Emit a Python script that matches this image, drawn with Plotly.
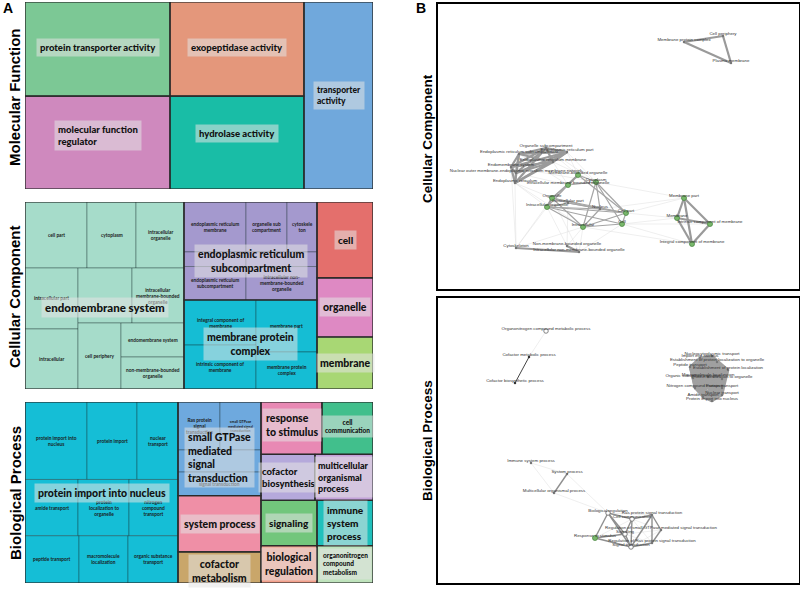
import textwrap

import plotly.graph_objects as go

# ---------------------------------------------------------------- treemap data
# cell extents are read off the picture in % of each treemap (y from the top)

MF_LABEL = [
    "protein transporter activity",
    "molecular function regulator",
    "exopeptidase activity",
    "hydrolase activity",
    "transporter activity",
]
MF_GROUP = [0, 1, 2, 3, 4]
MF_X0 = [0, 0, 41.67, 41.67, 80.17]
MF_X1 = [41.67, 41.67, 80.17, 80.17, 100]
MF_Y0 = [0, 50.3, 0, 50.3, 0]
MF_Y1 = [50.3, 100, 50.3, 100, 100]
MF_GROUP_TEXT = [
    "protein transporter activity",
    "molecular function<br>regulator",
    "exopeptidase activity",
    "hydrolase activity",
    "transporter<br>activity",
]

CC_LABEL = [
    "cell part", "cytoplasm", "intracellular organelle",
    "intracellular part", "", "intracellular membrane-bounded organelle",
    "intracellular", "cell periphery", "endomembrane system",
    "non-membrane-bounded organelle",
    "endoplasmic reticulum membrane", "organelle subcompartment",
    "cytoskeleton", "", "",
    "endoplasmic reticulum subcompartment",
    "intracellular non-membrane-bounded organelle",
    "integral component of membrane", "membrane part",
    "intrinsic component of membrane", "membrane protein complex",
    "cell", "organelle", "membrane",
]
CC_GROUP = [0] * 10 + [1] * 7 + [2] * 4 + [3, 4, 5]
CC_X0 = [0, 17.82, 31.9, 0, 15.23, 30.75, 0, 15.23, 27.59, 27.59,
         45.69, 63.51, 75.29, 45.69, 63.51, 45.69, 63.51,
         45.69, 66.38, 45.69, 66.38,
         83.91, 83.91, 83.91]
CC_X1 = [17.82, 31.9, 45.69, 15.23, 30.75, 45.69, 15.23, 27.59, 45.69, 45.69,
         63.51, 75.29, 83.91, 63.51, 83.91, 63.51, 83.91,
         66.38, 83.91, 66.38, 83.91,
         100, 100, 100]
CC_Y0 = [0, 0, 0, 35.3, 35.3, 35.3, 67.9, 64.7, 64.7, 82.9,
         0, 0, 0, 26.7, 26.7, 34.5, 34.5,
         52.4, 52.4, 76.5, 80.2,
         0, 40.6, 72.2]
CC_Y1 = [35.3, 35.3, 35.3, 67.9, 64.7, 64.7, 100, 100, 82.9, 100,
         26.7, 26.7, 26.7, 34.5, 34.5, 52.4, 52.4,
         76.5, 80.2, 100, 100,
         40.6, 72.2, 100]
CC_GROUP_TEXT = [
    "endomembrane system",
    "endoplasmic reticulum<br>subcompartment",
    "membrane protein<br>complex",
    "cell",
    "organelle",
    "membrane",
]

BP_LABEL = [
    "protein import into nucleus", "protein import", "nuclear transport",
    "amide transport", "protein localization to organelle",
    "nitrogen compound transport",
    "peptide transport", "macromolecule localization",
    "organic substance transport",
    "Ras protein signal transduction",
    "small GTPase mediated signal transduction", "", "signal transduction",
    "system process", "cofactor metabolism", "response to stimulus",
    "cell communication", "cofactor biosynthesis",
    "multicellular organismal process", "signaling",
    "immune system process", "biological regulation",
    "organonitrogen compound metabolism",
]
BP_GROUP = [0] * 9 + [1] * 4 + [2, 3, 4, 5, 6, 7, 8, 9, 10, 11]
BP_X0 = [0, 17.82, 32.18, 0, 15.23, 29.89, 0, 15.52, 29.6,
         43.97, 56.03, 43.97, 43.97,
         43.97, 43.97, 67.82, 85.34, 67.82, 83.33, 67.82, 83.91, 67.82, 83.91]
BP_X1 = [17.82, 32.18, 43.97, 15.23, 29.89, 43.97, 15.52, 29.6, 43.97,
         56.03, 67.82, 67.82, 67.82,
         67.82, 67.82, 85.34, 100, 83.33, 100, 83.91, 100, 83.91, 100]
BP_Y0 = [0, 0, 0, 42.8, 42.8, 42.8, 73.9, 73.9, 73.9,
         0, 0, 26.5, 38.7,
         51.7, 82.8, 0, 0, 28.9, 28.9, 54.4, 54.4, 79.4, 79.4]
BP_Y1 = [42.8, 42.8, 42.8, 73.9, 73.9, 73.9, 100, 100, 100,
         26.5, 26.5, 38.7, 51.7,
         82.8, 100, 28.9, 28.9, 54.4, 54.4, 79.4, 79.4, 100, 100]
BP_GROUP_TEXT = [
    "protein import into nucleus",
    "small GTPase<br>mediated<br>signal<br>transduction",
    "system process",
    "cofactor<br>metabolism",
    "response<br>to stimulus",
    "cell<br>communication",
    "cofactor<br>biosynthesis",
    "multicellular<br>organismal<br>process",
    "signaling",
    "immune<br>system<br>process",
    "biological<br>regulation",
    "organonitrogen<br>compound<br>metabolism",
]

# ---------------------------------------------------------------- network data
# node layout coordinates (box units, y from the top)

CC_NODE = [
    "Cell periphery", "Membrane protein complex", "Plasma membrane",
    "Organelle subcompartment", "Endoplasmic reticulum part",
    "Endoplasmic reticulum subcompartment", "Endoplasmic reticulum membrane",
    "Endomembrane system",
    "Nuclear outer membrane-endoplasmic reticulum membrane network",
    "Endoplasmic reticulum", "Membrane-bounded organelle",
    "Intracellular membrane-bounded organelle", "Cytoplasm", "Organelle",
    "Intracellular part", "Intracellular organelle", "Nucleus", "Cell part",
    "Cell", "Intracellular", "Cytoskeleton", "Non-membrane-bounded organelle",
    "Intracellular non-membrane-bounded organelle", "Membrane part",
    "Membrane", "Intrinsic component of membrane",
    "Integral component of membrane",
]
CC_NX = [285, 246, 293, 108, 129, 81, 115, 73, 78, 77, 140, 130, 158, 114,
         130, 109, 162, 188, 184, 145, 78, 129, 141, 246, 239, 272, 254]
CC_NY = [32, 38, 59, 144, 148, 150, 158, 163, 169, 179, 171, 181, 178, 194,
         199, 203, 205, 209, 220, 223, 244, 242, 248, 194, 214, 220, 240]
CC_KIND = ["gray", "gray", "gray", "gray", "gray", "gray", "gray", "gray",
           "gray", "gray", "green", "green", "green", "green", "gray",
           "green", "gray", "green", "green", "green", "gray", "gray", "gray",
           "green", "green", "green", "green"]
CC_STRONG = [(0, 1), (0, 2), (1, 2),
             (3, 4), (3, 5), (3, 6), (3, 7), (3, 8), (3, 9), (4, 5), (4, 6),
             (4, 7), (4, 8), (4, 9), (5, 6), (5, 7), (5, 8), (5, 9), (6, 7),
             (6, 8), (6, 9), (7, 8), (7, 9), (8, 9),
             (23, 24), (23, 25), (23, 26), (24, 25), (24, 26), (25, 26),
             (20, 22), (21, 22), (10, 11), (13, 15)]
CC_MEDIUM = [(13, 14), (14, 15), (15, 16), (15, 17), (15, 19), (14, 16),
             (14, 17), (17, 18), (18, 19), (17, 19), (16, 17), (13, 16),
             (10, 12), (11, 12), (10, 13), (11, 15), (12, 16), (12, 17),
             (12, 18), (16, 19), (13, 19), (11, 13), (10, 17), (15, 18),
             (13, 17), (12, 19)]
CC_WEAK = [(3, 10), (4, 10), (6, 11), (9, 13), (9, 15), (8, 11), (7, 12),
           (4, 12), (6, 12), (9, 19), (5, 11), (3, 12),
           (17, 23), (17, 24), (18, 24), (18, 26), (16, 23), (12, 23),
           (19, 26), (18, 25),
           (20, 15), (20, 13), (21, 15), (21, 19), (22, 19), (22, 13),
           (20, 19), (21, 14), (22, 18), (9, 20), (7, 20)]

BP_NODE = [
    "Organonitrogen compound metabolic process", "Cofactor metabolic process",
    "Cofactor biosynthetic process", "Nucleocytoplasmic transport",
    "Import into nucleus",
    "Establishment of protein localization to organelle", "Peptide transport",
    "Establishment of protein localization", "Organic substance transport",
    "Protein localization to organelle", "Macromolecule localization",
    "Nitrogen compound transport", "Protein transport", "Nuclear transport",
    "Amide transport", "Protein import into nucleus",
    "Immune system process", "System process",
    "Multicellular organismal process", "Biological regulation",
    "Ras protein signal transduction", "Cell communication",
    "Regulation of small GTPase mediated signal transduction", "Signaling",
    "Response to stimulus", "Regulation of Ras protein signal transduction",
    "Signal transduction",
]
BP_NX = [108, 91, 77, 274, 262, 279, 252, 290, 255, 284, 270, 257, 284, 284,
         265, 274, 93, 129, 116, 170, 214, 194, 223, 187, 157, 214, 193]
BP_NY = [33, 59, 85, 58, 60, 64, 69, 72, 80, 81, 79, 90, 90, 97, 99, 103,
         165, 176, 195, 215, 217, 221, 232, 236, 240, 245, 249]
BP_KIND = ["hollow", "dark", "dark"] + ["gray"] * 13 + [
    "gray", "gray", "gray", "hollow", "gray", "hollow", "gray", "hollow",
    "green", "gray", "hollow"]
BP_DENSE = list(range(3, 16))
BP_STRONG = [(17, 18), (19, 21), (19, 23), (19, 24), (19, 26), (21, 23),
             (21, 26), (23, 26), (24, 26), (23, 24), (20, 22), (20, 25),
             (22, 25), (20, 26), (25, 26), (21, 20)]
BP_DARK = [(1, 2)]
BP_WEAK = [(0, 1), (16, 18), (16, 17), (17, 19), (18, 19), (21, 22),
           (23, 22), (26, 22), (19, 20), (21, 25), (24, 21), (23, 25)]

# ---------------------------------------------------------------- styling

MF_COLORS = ["#7cc895", "#cf89be", "#e4977b", "#19bda6", "#70a8dc"]
CC_COLORS = ["#a6dcca", "#a499ce", "#15bdd4", "#e46f6c", "#de89c3", "#a8d774"]
BP_COLORS = ["#15bed6", "#6ea9de", "#ef8fa6", "#c9a66a", "#e889b4",
             "#41bf8c", "#b5a9db", "#c3a2d9", "#72c67c", "#20c0bc",
             "#f3a08c", "#bfe3bc"]
MF_SIZES = [9.5, 9.5, 9.5, 9.5, 8.5]
CC_SIZES = [11.5, 10.5, 10.5, 10, 10.5, 10.5]
BP_SIZES = [10.5, 10.5, 10.5, 10.5, 10.5, 6.5, 9.5, 9, 10, 10, 10.5, 6.5]
MF_ALIGN = ["center", "left", "center", "center", "left"]
CC_ALIGN = ["center"] * 6
BP_ALIGN = ["center", "left", "center", "center", "left", "center", "left",
            "left", "center", "left", "center", "left"]
# vertical nudge of each group label, in % of the treemap height
MF_SHIFT = [-1, -3.5, -1, -5, 0]
CC_SHIFT = [6.5, 5.5, 0, 0, 0, 0]
BP_SHIFT = [0, 5, 0, 2, -2, -1, 0, 0, 0, 0, 0, 0]

FONT = "Lato"
W_PX = 348


def wrap_label(text, width_px):
    size = 4.8
    lines = textwrap.wrap(text, max(4, int(width_px / (size * 0.56))))
    if len(lines) > 3:
        size = 3.6
        lines = textwrap.wrap(text, max(4, int(width_px / (size * 0.56))))
    return "<br>".join(lines), size


def add_treemap(figure, n, labels, groups, x0, x1, y0, y1,
                colors, group_text, sizes, aligns, shifts):
    xa, ya = f"x{n}", f"y{n}"
    figure.add_trace(go.Bar(
        x=[(a + b) / 2 for a, b in zip(x0, x1)],
        y=[b - a for a, b in zip(y0, y1)],
        base=y0,
        width=[b - a for a, b in zip(x0, x1)],
        marker=dict(
            color=[colors[g] for g in groups],
            line=dict(color="rgba(20,40,40,0.45)", width=0.8),
        ),
        hovertext=labels, hoverinfo="text",
        xaxis=xa, yaxis=ya, showlegend=False,
    ))

    n_groups = max(groups) + 1
    gx0, gx1, gy0, gy1 = [], [], [], []
    for g in range(n_groups):
        idx = [i for i, v in enumerate(groups) if v == g]
        gx0.append(min(x0[i] for i in idx))
        gx1.append(max(x1[i] for i in idx))
        gy0.append(min(y0[i] for i in idx))
        gy1.append(max(y1[i] for i in idx))

    figure.add_trace(go.Bar(
        x=[(a + b) / 2 for a, b in zip(gx0, gx1)],
        y=[b - a for a, b in zip(gy0, gy1)],
        base=gy0,
        width=[b - a for a, b in zip(gx0, gx1)],
        marker=dict(color="rgba(0,0,0,0)",
                    line=dict(color="#2a2a2a", width=1.2)),
        hoverinfo="skip", xaxis=xa, yaxis=ya, showlegend=False,
    ))

    # small labels inside multi-cell groups
    for i, text in enumerate(labels):
        if not text or groups.count(groups[i]) < 2:
            continue
        wrapped, size = wrap_label(text, (x1[i] - x0[i]) * W_PX / 100 - 4)
        figure.add_annotation(
            x=(x0[i] + x1[i]) / 2, y=(y0[i] + y1[i]) / 2,
            xref=xa, yref=ya, showarrow=False, text=wrapped,
            font=dict(family=FONT, size=size, color="#1a1a1a", weight="bold"),
        )

    # group labels
    for g in range(n_groups):
        figure.add_annotation(
            x=(gx0[g] + gx1[g]) / 2, y=(gy0[g] + gy1[g]) / 2 + shifts[g],
            xref=xa, yref=ya, showarrow=False,
            text=group_text[g], align=aligns[g],
            font=dict(family=FONT, size=sizes[g], color="#111111",
                      weight=900),
            bgcolor="rgba(228,228,228,0.55)", borderpad=3,
        )


def add_network(figure, n, names, nx, ny, kinds, edge_sets):
    xa, ya = f"x{n}", f"y{n}"
    for edges, color, width in edge_sets:
        ex, ey = [], []
        for a, b in edges:
            ex += [nx[a], nx[b], None]
            ey += [ny[a], ny[b], None]
        figure.add_trace(go.Scatter(
            x=ex, y=ey, mode="lines",
            line=dict(color=color, width=width),
            hoverinfo="skip", xaxis=xa, yaxis=ya, showlegend=False,
        ))

    styles = {
        "green": dict(size=5, color="#79b86c",
                      line=dict(color="#4f8a45", width=0.8)),
        "gray": dict(size=2.5, color="#777777", line=dict(width=0)),
        "dark": dict(size=2.5, color="#333333", line=dict(width=0)),
        "hollow": dict(size=4.5, color="white",
                       line=dict(color="#666666", width=0.8)),
    }
    for kind, marker in styles.items():
        idx = [i for i, k in enumerate(kinds) if k == kind]
        if not idx:
            continue
        figure.add_trace(go.Scatter(
            x=[nx[i] for i in idx], y=[ny[i] for i in idx],
            mode="markers", marker=marker,
            hovertext=[names[i] for i in idx], hoverinfo="text",
            xaxis=xa, yaxis=ya, showlegend=False,
        ))

    figure.add_trace(go.Scatter(
        x=nx, y=ny, mode="text", text=names, textposition="top center",
        textfont=dict(family="Liberation Sans", size=4.4, color="#333333"),
        hoverinfo="skip", xaxis=xa, yaxis=ya, showlegend=False,
    ))


fig = go.Figure()

add_treemap(fig, "", MF_LABEL, MF_GROUP, MF_X0, MF_X1, MF_Y0, MF_Y1,
            MF_COLORS, MF_GROUP_TEXT, MF_SIZES, MF_ALIGN, MF_SHIFT)
add_treemap(fig, 2, CC_LABEL, CC_GROUP, CC_X0, CC_X1, CC_Y0, CC_Y1,
            CC_COLORS, CC_GROUP_TEXT, CC_SIZES, CC_ALIGN, CC_SHIFT)
add_treemap(fig, 3, BP_LABEL, BP_GROUP, BP_X0, BP_X1, BP_Y0, BP_Y1,
            BP_COLORS, BP_GROUP_TEXT, BP_SIZES, BP_ALIGN, BP_SHIFT)

add_network(fig, 4, CC_NODE, CC_NX, CC_NY, CC_KIND, [
    (CC_WEAK, "#dedede", 0.5),
    (CC_MEDIUM, "#a5a5a5", 1.2),
    (CC_STRONG, "#9a9a9a", 2.2),
])
BP_DENSE_EDGES = [(a, b) for i, a in enumerate(BP_DENSE)
                  for b in BP_DENSE[i + 1:]]
add_network(fig, 5, BP_NODE, BP_NX, BP_NY, BP_KIND, [
    (BP_WEAK, "#dedede", 0.5),
    (BP_DENSE_EDGES, "#a0a0a0", 2.5),
    (BP_STRONG, "#8f8f8f", 1.4),
    (BP_DARK, "#444444", 1.0),
])

H = 590.0


def ydom(top, bottom):
    return [1 - bottom / H, 1 - top / H]


hidden = dict(showgrid=False, zeroline=False, showticklabels=False,
              ticks="", showline=False, fixedrange=True)
boxed = dict(showgrid=False, zeroline=False, showticklabels=False,
             ticks="", showline=True, mirror=True, linecolor="black",
             linewidth=1.5, fixedrange=True)

tm_x = [25 / 800, 373 / 800]
net_x = [438 / 800, 799 / 800]

fig.update_layout(
    width=800, height=590,
    margin=dict(l=0, r=0, t=0, b=0),
    paper_bgcolor="white", plot_bgcolor="white",
    barmode="overlay",
    xaxis=dict(domain=tm_x, range=[0, 100], **hidden),
    yaxis=dict(domain=ydom(2, 189), range=[100, 0], **hidden),
    xaxis2=dict(domain=tm_x, range=[0, 100], anchor="y2", **hidden),
    yaxis2=dict(domain=ydom(202, 389), range=[100, 0], anchor="x2", **hidden),
    xaxis3=dict(domain=tm_x, range=[0, 100], anchor="y3", **hidden),
    yaxis3=dict(domain=ydom(402, 583), range=[100, 0], anchor="x3", **hidden),
    xaxis4=dict(domain=net_x, range=[0, 361], anchor="y4", **boxed),
    yaxis4=dict(domain=ydom(4, 289), range=[285, 0], anchor="x4", **boxed),
    xaxis5=dict(domain=net_x, range=[0, 361], anchor="y5", **boxed),
    yaxis5=dict(domain=ydom(298, 583), range=[285, 0], anchor="x5", **boxed),
)

side_font = dict(family="Liberation Sans", size=15, color="black",
                 weight="bold")
for text, ypx in [("Molecular Function", 97), ("Cellular Component", 297),
                  ("Biological Process", 493)]:
    fig.add_annotation(x=15 / 800, y=1 - ypx / H, xref="paper", yref="paper",
                       xanchor="center", yanchor="middle",
                       text=text, textangle=-90, showarrow=False,
                       font=side_font)

for text, ypx in [("Cellular Component", 138), ("Biological Process", 440)]:
    fig.add_annotation(x=427 / 800, y=1 - ypx / H, xref="paper",
                       yref="paper", xanchor="center", yanchor="middle",
                       text=text, textangle=-90, showarrow=False,
                       font=dict(side_font, size=13.5))

for text, xpx in [("A", 8), ("B", 421)]:
    fig.add_annotation(x=xpx / 800, y=1 - 8 / H, xref="paper", yref="paper",
                       xanchor="center", yanchor="middle",
                       text=text, showarrow=False,
                       font=dict(side_font, size=14))

fig.write_html(
    "out.html",
    config={"displayModeBar": False},
    post_script="document.body.style.margin='0';"
                "document.body.style.overflow='hidden';",
)
